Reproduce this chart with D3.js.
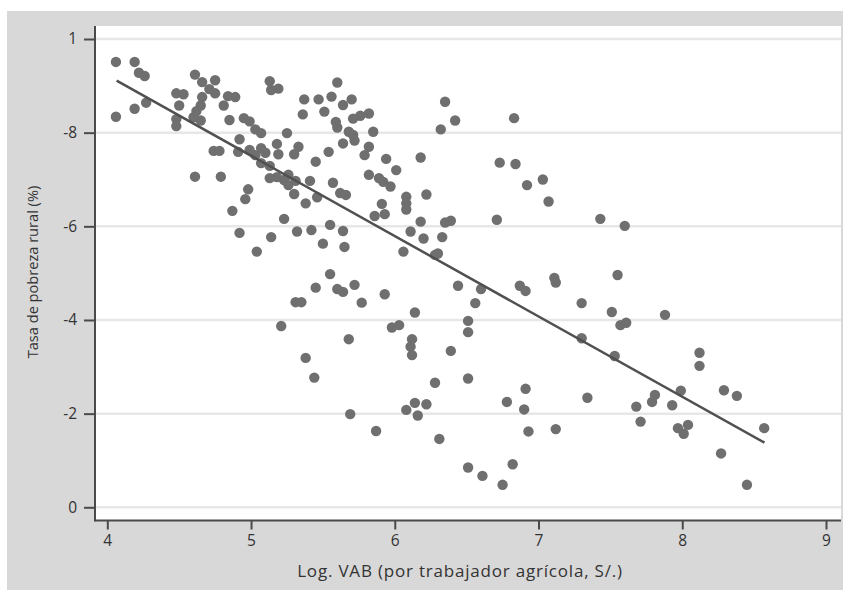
<!DOCTYPE html>
<html>
<head>
<meta charset="utf-8" />
<title>Tasa de pobreza rural vs Log. VAB</title>
<style>
html, body {
  margin: 0;
  padding: 0;
  background-color: #ffffff;
}
text {
  font-family: "Open Sans", "Noto Sans", sans-serif;
  fill: #333333;
}
</style>
</head>
<body>
<script src="https://d3js.org/d3.v7.min.js"></script>
<script>

      // ---------------------------------------------------------
      // Data

      const xTicks = [4, 5, 6, 7, 8, 9]
      const xTickLabels = ['4', '5', '6', '7', '8', '9']
      const yTicks = [0, 0.2, 0.4, 0.6, 0.8, 1]
      const yTickLabels = ['0', '-2', '-4', '-6', '-8', '1']

      const xTitle = 'Log. VAB (por trabajador agrícola, S/.)'
      const yTitle = 'Tasa de pobreza rural (%)'

      // log VAB per agricultural worker
      const logVab = [
        4.06, 4.19, 4.22, 4.26, 4.06, 4.19, 4.27, 4.48, 4.53, 4.50,
        4.48, 4.48, 4.61, 4.66, 4.75, 4.71, 4.75, 4.66, 4.65, 4.62,
        4.60, 4.65, 4.84, 4.89, 4.81, 4.85, 4.95, 4.99, 5.03, 5.07,
        5.13, 5.14, 5.19, 5.37, 5.47, 5.51, 5.36, 5.25, 4.92, 4.74,
        4.78, 4.91, 4.99, 5.07, 5.10, 5.03, 5.18, 5.19, 5.33, 5.30,
        5.45, 5.54, 5.07, 5.13, 5.13, 5.18, 5.23, 5.26, 5.26, 5.31,
        5.41, 5.46, 5.30, 5.38, 4.61, 4.79, 4.98, 4.96, 4.87, 5.23,
        4.92, 5.14, 5.32, 5.42, 5.50, 5.04, 5.45, 5.31, 5.35, 5.21,
        5.38, 5.44, 5.60, 5.56, 5.64, 5.70, 5.59, 5.60, 5.71, 5.76,
        5.82, 5.68, 5.71, 5.72, 5.85, 5.64, 5.82, 5.79, 5.94, 6.01,
        6.18, 5.57, 5.62, 5.66, 5.82, 5.89, 5.92, 5.97, 6.08, 6.08,
        6.08, 6.22, 5.91, 5.86, 5.93, 6.18, 6.35, 6.39, 6.11, 6.20,
        6.33, 6.06, 6.28, 6.30, 5.55, 5.64, 5.65, 5.55, 6.35, 6.42,
        6.32, 6.83, 6.73, 6.84, 6.92, 7.03, 7.07, 6.71, 7.11, 7.43,
        7.60, 7.55, 5.60, 5.64, 5.72, 5.77, 5.93, 6.14, 5.98, 6.03,
        5.68, 6.12, 6.11, 6.12, 6.39, 6.44, 6.60, 6.56, 6.51, 6.51,
        6.87, 6.91, 7.12, 6.51, 6.28, 6.91, 6.78, 6.90, 6.93, 7.12,
        6.14, 6.22, 6.08, 6.16, 5.69, 5.87, 6.31, 6.51, 6.61, 6.82,
        6.75, 7.30, 7.51, 7.57, 7.61, 7.88, 7.30, 7.53, 7.34, 7.68,
        7.71, 7.81, 7.79, 7.93, 7.99, 8.12, 8.12, 7.97, 8.01, 8.04,
        8.29, 8.38, 8.57, 8.27, 8.45
      ]

      // rural poverty rate (axis labels read "-2" for .2 etc.)
      const pobreza = [
        0.951, 0.951, 0.928, 0.921, 0.834, 0.851, 0.864, 0.884, 0.882, 0.858,
        0.829, 0.814, 0.924, 0.908, 0.912, 0.893, 0.884, 0.876, 0.858, 0.846,
        0.833, 0.826, 0.878, 0.876, 0.858, 0.827, 0.831, 0.824, 0.807, 0.799,
        0.910, 0.891, 0.894, 0.871, 0.871, 0.845, 0.839, 0.799, 0.786, 0.761,
        0.761, 0.759, 0.763, 0.767, 0.757, 0.752, 0.776, 0.754, 0.770, 0.754,
        0.738, 0.759, 0.735, 0.729, 0.703, 0.705, 0.699, 0.710, 0.688, 0.697,
        0.697, 0.662, 0.669, 0.649, 0.706, 0.706, 0.679, 0.658, 0.633, 0.616,
        0.586, 0.577, 0.589, 0.592, 0.563, 0.546, 0.469, 0.438, 0.438, 0.387,
        0.319, 0.277, 0.907, 0.877, 0.859, 0.871, 0.823, 0.811, 0.830, 0.836,
        0.841, 0.802, 0.795, 0.783, 0.802, 0.777, 0.770, 0.752, 0.744, 0.720,
        0.747, 0.693, 0.671, 0.667, 0.710, 0.703, 0.695, 0.685, 0.663, 0.649,
        0.636, 0.668, 0.648, 0.622, 0.626, 0.610, 0.608, 0.612, 0.589, 0.574,
        0.577, 0.546, 0.539, 0.542, 0.603, 0.590, 0.556, 0.498, 0.866, 0.826,
        0.807, 0.831, 0.736, 0.733, 0.688, 0.700, 0.653, 0.614, 0.490, 0.616,
        0.601, 0.496, 0.466, 0.460, 0.475, 0.437, 0.455, 0.416, 0.384, 0.389,
        0.359, 0.359, 0.343, 0.325, 0.334, 0.473, 0.466, 0.436, 0.398, 0.374,
        0.473, 0.462, 0.480, 0.275, 0.266, 0.253, 0.225, 0.209, 0.162, 0.167,
        0.223, 0.220, 0.208, 0.196, 0.199, 0.163, 0.146, 0.085, 0.067, 0.092,
        0.048, 0.436, 0.417, 0.389, 0.394, 0.411, 0.361, 0.323, 0.234, 0.215,
        0.183, 0.240, 0.225, 0.218, 0.249, 0.330, 0.302, 0.169, 0.157, 0.176,
        0.250, 0.238, 0.169, 0.115, 0.048
      ]

      // fitted line, end points as drawn
      const fitX = [4.065, 8.572]
      const fitY = [0.911, 0.138]

      // ---------------------------------------------------------
      // Setup

      const w = 843
      const h = 590
      const plotLeft = 95
      const plotRight = 841
      const plotTop = 26
      const plotBottom = 520.5

      const svg = d3.select('body').append('svg')
        .attr('width', w)
        .attr('height', h)

      // grey frame + white plot
      svg.append('rect')
        .attr('x', 7).attr('y', 11)
        .attr('width', w - 7).attr('height', h - 11)
        .attr('fill', '#d8d8d8')

      svg.append('rect')
        .attr('x', plotLeft).attr('y', plotTop)
        .attr('width', plotRight - plotLeft).attr('height', plotBottom - plotTop)
        .attr('fill', '#ffffff')

      const x = d3.scaleLinear()
        .domain([4, 9])
        .range([107.3, 826])

      const y = d3.scaleLinear()
        .domain([0, 1])
        .range([507.3, 39])

      // gridlines
      svg.append('g')
        .selectAll('line')
        .data(yTicks)
        .enter().append('line')
        .attr('x1', plotLeft + 1)
        .attr('x2', plotRight)
        .attr('y1', d => y(d))
        .attr('y2', d => y(d))
        .attr('stroke', '#e7e7e7')
        .attr('stroke-width', 2.5)

      // ---------------------------------------------------------
      // Axes

      const yAxis = d3.axisLeft(y)
        .tickValues(yTicks)
        .tickFormat((d, i) => yTickLabels[i])
        .tickSize(11)
        .tickPadding(7)

      const gy = svg.append('g')
        .attr('transform', `translate(${plotLeft},0)`)
        .call(yAxis)
      gy.select('.domain').remove()

      const xAxis = d3.axisBottom(x)
        .tickValues(xTicks)
        .tickFormat((d, i) => xTickLabels[i])
        .tickSize(9)
        .tickPadding(5)

      const gx = svg.append('g')
        .attr('transform', `translate(0,${plotBottom})`)
        .call(xAxis)
      gx.select('.domain').remove()

      svg.selectAll('.tick line')
        .attr('stroke', '#4a4a4a')
        .attr('stroke-width', 2)
      svg.selectAll('.tick text')
        .style('font-family', '"Open Sans", "Noto Sans", sans-serif')
        .style('font-size', '15.5px')
        .attr('fill', '#333')

      // axis lines
      svg.append('line')
        .attr('x1', plotLeft).attr('x2', plotLeft)
        .attr('y1', plotTop).attr('y2', plotBottom + 1)
        .attr('stroke', '#4a4a4a').attr('stroke-width', 2)

      svg.append('line')
        .attr('x1', plotLeft).attr('x2', plotRight)
        .attr('y1', plotBottom).attr('y2', plotBottom)
        .attr('stroke', '#4a4a4a').attr('stroke-width', 2)

      // titles
      svg.append('text')
        .attr('x', 460)
        .attr('y', 577)
        .attr('text-anchor', 'middle')
        .style('font-size', '17px')
        .style('letter-spacing', '0.8px')
        .text(xTitle)

      svg.append('text')
        .attr('transform', 'translate(38,272) rotate(-90)')
        .attr('text-anchor', 'middle')
        .style('font-size', '14.6px')
        .text(yTitle)

      // ---------------------------------------------------------
      // Points + fit

      svg.append('g')
        .selectAll('circle')
        .data(logVab)
        .enter().append('circle')
        .attr('cx', d => x(d))
        .attr('cy', (d, i) => y(pobreza[i]))
        .attr('r', 5.2)
        .attr('fill', '#6f6f6f')

      svg.append('line')
        .attr('x1', x(fitX[0])).attr('y1', y(fitY[0]))
        .attr('x2', x(fitX[1])).attr('y2', y(fitY[1]))
        .attr('stroke', '#505050')
        .attr('stroke-width', 2.5)

</script>
</body>
</html>
